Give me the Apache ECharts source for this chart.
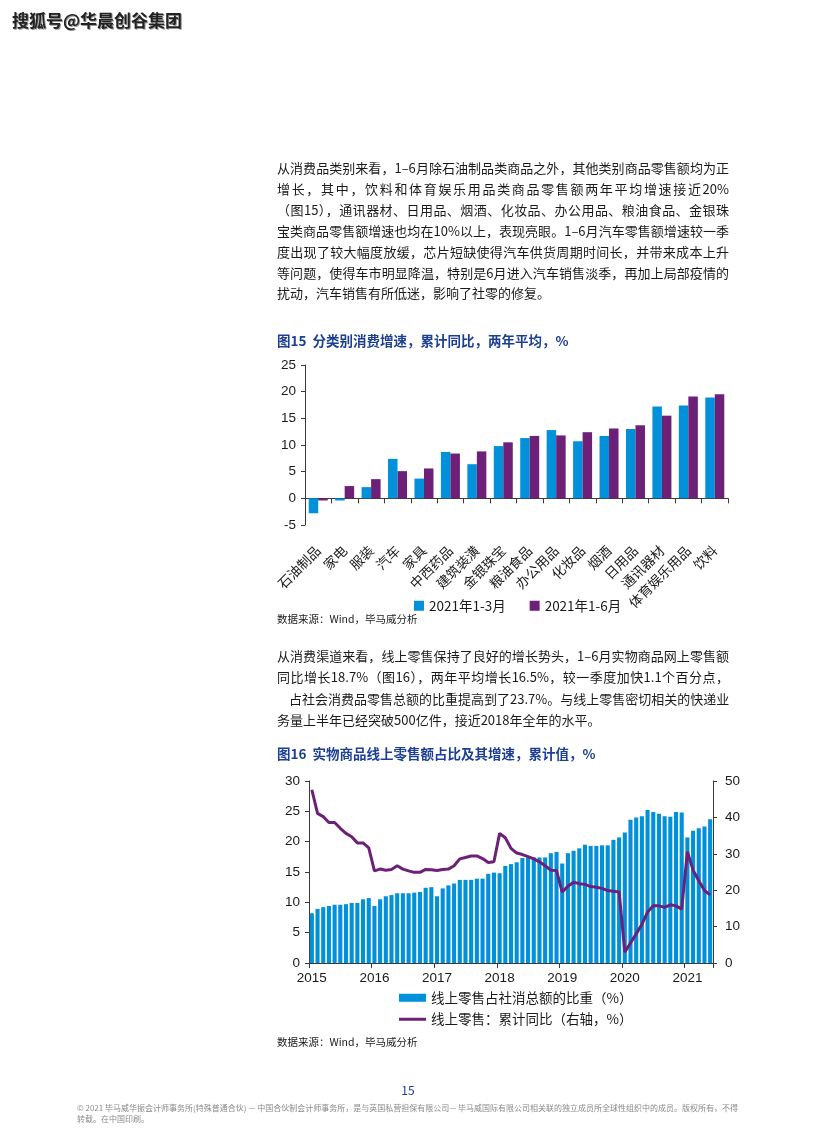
<!DOCTYPE html>
<html><head><meta charset="utf-8">
<script src="https://cdn.jsdelivr.net/npm/echarts@6/dist/echarts.min.js"></script>
<style>
html,body{margin:0;padding:0;background:#fff;}
#page{position:relative;width:816px;height:1145px;overflow:hidden;font-family:"Noto Sans CJK SC","Noto Sans",sans-serif;color:#1a1a1a;}
#chart{position:absolute;left:0;top:0;width:816px;height:1145px;}
.ln{position:absolute;left:277px;width:452px;font-size:13px;line-height:16px;height:16px;white-space:nowrap;text-align:justify;text-align-last:justify;z-index:2;}
.last{text-align-last:left;}
.ttl{position:absolute;left:277px;font-size:13.5px;font-weight:bold;color:#1c3f94;line-height:16px;white-space:nowrap;z-index:2;}
.src{position:absolute;left:277px;font-size:10.5px;line-height:12px;white-space:nowrap;z-index:2;color:#1a1a1a;}
.wm{position:absolute;left:12px;top:7px;font-size:17px;font-weight:bold;color:#222;text-shadow:1px 1px 0 #999;letter-spacing:0px;z-index:2;}
.pg{position:absolute;left:0;width:816px;top:1081px;text-align:center;font-size:12px;color:#1c3f94;z-index:2;}
.ft{position:absolute;left:77px;width:660px;font-size:8px;line-height:10px;color:#8a8a8a;white-space:nowrap;z-index:2;}
</style></head>
<body><div id="page">
<div id="chart"></div>
<div class="wm">搜狐号@华晨创谷集团</div>

<div class="ln" style="top:160px">从消费品类别来看，1–6月除石油制品类商品之外，其他类别商品零售额均为正</div>
<div class="ln" style="top:181px">增长，其中，饮料和体育娱乐用品类商品零售额两年平均增速接近20%</div>
<div class="ln" style="top:202px">（图15），通讯器材、日用品、烟酒、化妆品、办公用品、粮油食品、金银珠</div>
<div class="ln" style="top:223px">宝类商品零售额增速也均在10%以上，表现亮眼。1–6月汽车零售额增速较一季</div>
<div class="ln" style="top:244px">度出现了较大幅度放缓，芯片短缺使得汽车供货周期时间长，并带来成本上升</div>
<div class="ln" style="top:265px">等问题，使得车市明显降温，特别是6月进入汽车销售淡季，再加上局部疫情的</div>
<div class="ln last" style="top:285px">扰动，汽车销售有所低迷，影响了社零的修复。</div>

<div class="ttl" style="top:332px">图15&nbsp;&nbsp;分类别消费增速，累计同比，两年平均，%</div>
<div class="src" style="top:613px">数据来源：Wind，毕马威分析</div>

<div class="ln" style="top:648px">从消费渠道来看，线上零售保持了良好的增长势头，1–6月实物商品网上零售额</div>
<div class="ln" style="top:669px">同比增长18.7%（图16），两年平均增长16.5%，较一季度加快1.1个百分点，</div>
<div class="ln" style="top:691px;left:289px;width:440px">占社会消费品零售总额的比重提高到了23.7%。与线上零售密切相关的快递业</div>
<div class="ln last" style="top:712px">务量上半年已经突破500亿件，接近2018年全年的水平。</div>

<div class="ttl" style="top:745px">图16&nbsp;&nbsp;实物商品线上零售额占比及其增速，累计值，%</div>
<div class="src" style="top:1036px">数据来源：Wind，毕马威分析</div>

<div class="pg">15</div>
<div class="ft" style="top:1103px;text-align:justify;text-align-last:justify;">© 2021 毕马威华振会计师事务所(特殊普通合伙) — 中国合伙制会计师事务所，是与英国私营担保有限公司— 毕马威国际有限公司相关联的独立成员所全球性组织中的成员。版权所有，不得</div>
<div class="ft" style="top:1114px">转载。在中国印刷。</div>
</div>
<script>
// ---- Chart 15 data ----
const categories1 = ['石油制品','家电','服装','汽车','家具','中西药品','建筑装潢','金银珠宝','粮油食品','办公用品','化妆品','烟酒','日用品','通讯器材','体育娱乐用品','饮料'];
const growthQ1 = [-2.8,-0.4,2.1,7.4,3.7,8.7,6.4,9.8,11.3,12.8,10.7,11.7,13.0,17.2,17.4,18.9];
const growthH1 = [-0.4,2.3,3.6,5.1,5.6,8.4,8.8,10.5,11.7,11.8,12.4,13.1,13.7,15.5,19.1,19.5];
const legend1 = ['2021年1-3月','2021年1-6月'];
const yTicks1 = {min:-5,max:25,step:5};

// ---- Chart 16 data ----
const years2 = [2015,2016,2017,2018,2019,2020,2021];
const lastMonth2 = [12,12,12,12,12,12,6];
const onlineShare = [
  8.2,8.9,9.2,9.4,9.6,9.6,9.7,9.9,9.9,10.5,10.7,
  9.4,10.5,11.0,11.2,11.5,11.5,11.5,11.6,11.7,12.4,12.5,
  11.0,12.3,12.8,13.1,13.7,13.7,13.7,13.9,13.9,14.7,14.9,
  14.8,16.0,16.3,16.6,17.3,17.4,17.4,17.4,17.4,18.1,18.3,
  16.4,18.1,18.5,18.9,19.5,19.3,19.3,19.4,19.4,20.3,20.7,
  21.5,23.6,24.0,24.2,25.2,24.9,24.6,24.2,24.1,24.9,24.8,
  20.7,21.8,22.2,22.5,23.7
];
const onlineGrowth = [
  47.6,41.1,40.2,38.6,38.6,37.0,35.6,34.7,33.0,33.0,31.6,
  25.3,25.8,25.5,25.7,26.7,25.8,25.3,24.9,24.9,25.7,25.6,
  25.4,25.7,25.8,26.7,28.6,29.0,29.4,29.4,28.7,27.6,27.8,
  35.6,34.4,31.5,30.2,29.8,29.2,28.6,27.8,26.7,25.5,25.4,
  19.5,21.1,22.2,21.8,21.6,21.0,20.8,20.5,19.9,19.7,19.5,
  3.0,5.5,8.0,10.6,14.0,15.7,15.7,15.3,16.0,15.7,14.8,
  30.6,25.5,22.6,19.9,18.7
];
const legend2 = ['线上零售占社消总额的比重（%）','线上零售：累计同比（右轴，%）'];
const yTicks2L = {min:0,max:30,step:5};
const yTicks2R = {min:0,max:50,step:10};

// categories for chart 16: Jan-Feb combined, so each year starts at month 2
const categories2 = [];
years2.forEach((y,i)=>{ for(let m=2;m<=lastMonth2[i];m++) categories2.push(y+'-'+(m<10?'0'+m:m)); });

const BLUE='#0091DA', PURPLE='#6D2077', AX='#3a3a3a', TXT='#1a1a1a';
const NUMF='"Liberation Sans", Arial, "Noto Sans CJK SC", sans-serif';
const CJKF='"Noto Sans CJK SC", "Liberation Sans", sans-serif';
const isYearStart = (idx)=> categories2[idx] && categories2[idx].slice(5)==='02';

const chart = echarts.init(document.getElementById('chart'));
chart.setOption({
  animation:false,
  legend:[
    {data:legend1, left:414, top:599, padding:0, icon:'rect', itemWidth:10, itemHeight:10, itemGap:24,
     textStyle:{fontSize:13.5,color:TXT,fontFamily:CJKF}},
    {data:[{name:legend2[0],icon:'rect'},{name:legend2[1],icon:'path://M0,0H27V3H0Z'}], left:399, top:991, padding:0, orient:'vertical',
     symbolKeepAspect:true, itemWidth:27, itemHeight:8, itemGap:8, textStyle:{fontSize:13.5,color:TXT,fontFamily:CJKF}}
  ],
  grid:[
    {left:305,right:88,top:365,height:160},
    {left:309,right:103,top:781,height:182}
  ],
  xAxis:[
    {type:'category', gridIndex:0, data:categories1,
     axisLine:{onZero:true,lineStyle:{color:AX,width:1}},
     axisTick:{show:true,length:5,lineStyle:{color:AX}},
     axisLabel:{rotate:45,margin:23,interval:0,fontSize:13.5,color:TXT,fontFamily:CJKF}},
    {type:'category', gridIndex:1, data:categories2,
     axisLine:{lineStyle:{color:AX,width:1}},
     axisTick:{show:true,length:5,interval:(i)=>isYearStart(i),lineStyle:{color:AX}},
     axisLabel:{interval:(i)=>isYearStart(i), formatter:(v)=>v.slice(0,4), margin:9,fontSize:13.5,color:TXT,fontFamily:NUMF}}
  ],
  yAxis:[
    {type:'value', gridIndex:0, min:yTicks1.min, max:yTicks1.max, interval:yTicks1.step,
     splitLine:{show:false}, axisLine:{show:true,lineStyle:{color:AX}},
     axisTick:{show:true,length:4,lineStyle:{color:AX}},
     axisLabel:{fontSize:13.5,color:TXT,margin:9,fontFamily:NUMF}},
    {type:'value', gridIndex:1, min:yTicks2L.min, max:yTicks2L.max, interval:yTicks2L.step,
     splitLine:{show:false}, axisLine:{show:true,lineStyle:{color:AX}},
     axisTick:{show:true,length:4,lineStyle:{color:AX}},
     axisLabel:{fontSize:13.5,color:TXT,margin:9,fontFamily:NUMF}},
    {type:'value', gridIndex:1, position:'right', min:yTicks2R.min, max:yTicks2R.max, interval:yTicks2R.step,
     splitLine:{show:false}, axisLine:{show:true,lineStyle:{color:AX}},
     axisTick:{show:true,length:4,lineStyle:{color:AX}},
     axisLabel:{fontSize:13.5,color:TXT,margin:12,fontFamily:NUMF}}
  ],
  series:[
    {name:legend1[0], type:'bar', xAxisIndex:0, yAxisIndex:0, data:growthQ1, barWidth:9.5, barGap:'0%', itemStyle:{color:BLUE}},
    {name:legend1[1], type:'bar', xAxisIndex:0, yAxisIndex:0, data:growthH1, barWidth:9.5, barGap:'0%', itemStyle:{color:PURPLE}},
    {name:legend2[0], type:'bar', xAxisIndex:1, yAxisIndex:1, data:onlineShare, barCategoryGap:'28%', itemStyle:{color:BLUE}},
    {name:legend2[1], type:'line', xAxisIndex:1, yAxisIndex:2, data:onlineGrowth, symbol:'none', z:5,
     lineStyle:{color:PURPLE,width:3}, itemStyle:{color:PURPLE}}
  ]
});
</script>
</body></html>
